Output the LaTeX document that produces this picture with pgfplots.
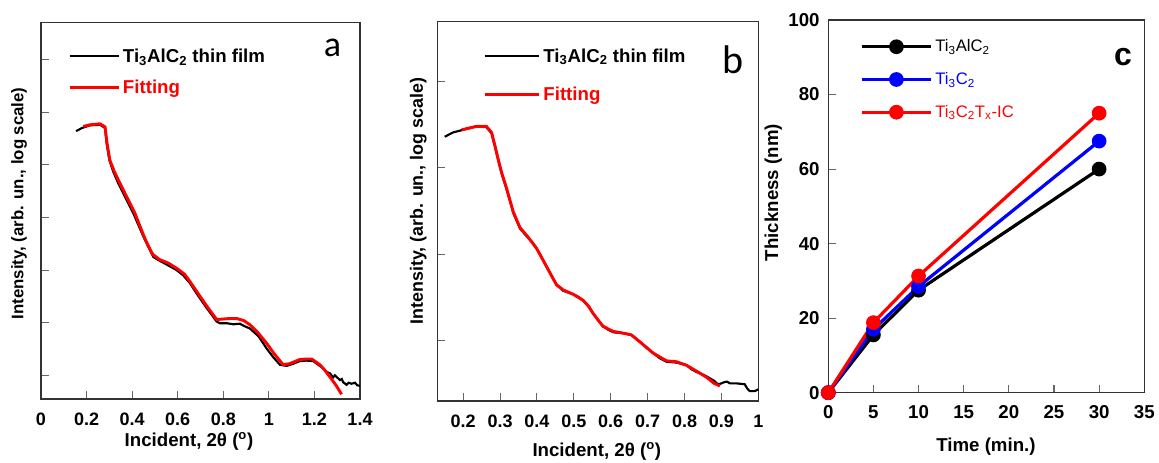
\documentclass[border=0pt]{standalone}
\usepackage{fontspec}
\setmainfont{Liberation Sans}
\newfontfamily\carlito{Carlito}
\usepackage{pgfplots}
\pgfplotsset{compat=1.18}

\pgfplotsset{
  panel/.style={
    scale only axis,
    axis line style={black!80, line width=0.8pt},
    tick style={black!60, line width=0.8pt},
    tick align=inside,
    xtick pos=bottom, ytick pos=left,
    major tick length=6pt,
    /pgf/number format/assume math mode=true,
    tick label style={font=\bfseries\fontsize{13.5}{16}\selectfont},
    label style={font=\bfseries\fontsize{14}{16}\selectfont},
    xticklabel style={yshift=-7pt},
  },
  xrr/.style={
    panel,
    yticklabels={},
    legend cell align=left,
    legend style={draw=none, fill=none, inner sep=0pt, row sep=8pt,
      font=\bfseries\fontsize{14}{16}\selectfont},
  },
}

\begin{document}
\begin{tikzpicture}
\useasboundingbox (0pt,0pt) rectangle (869.25pt,-347.25pt);

% ---- panel a ----
\begin{axis}[xrr,
  at={(30.75pt,-299.25pt)}, anchor=south west,
  width=239.25pt, height=282.2pt,
  xmin=0, xmax=1.4, ymin=0.55, ymax=7.7,
  xtick={0,0.2,0.4,0.6,0.8,1,1.2,1.4}, ytick={1,...,7},
  xticklabels={0,0.2,0.4,0.6,0.8,1,1.2,1.4},
  xlabel={Incident, 2θ (\textsuperscript{o})},
  ylabel={Intensity, (arb. un., log scale)},
  xlabel style={at={(axis description cs:0.464,-0.113)}, anchor=center},
  ylabel style={at={(axis description cs:-0.069,0.52)}, anchor=center,
    font=\bfseries\fontsize{12.6}{14}\selectfont},
  legend style={at={(axis description cs:0.084,0.939)}, anchor=north west},
  legend image code/.code={\draw[#1] (0pt,0pt) -- (37pt,0pt);},
]
\addplot[black, line width=1.6pt] coordinates {
(0.154,5.64) (0.180,5.70) (0.215,5.75) (0.259,5.76) (0.281,5.70) (0.288,5.41)
(0.300,5.09) (0.317,4.87) (0.339,4.65) (0.361,4.46) (0.383,4.27) (0.405,4.08)
(0.427,3.86) (0.449,3.64) (0.471,3.44) (0.493,3.25) (0.515,3.19) (0.537,3.14)
(0.566,3.07) (0.595,3.00) (0.624,2.90) (0.654,2.75) (0.676,2.60) (0.698,2.46)
(0.727,2.28) (0.756,2.11) (0.771,2.02) (0.785,1.99) (0.815,1.99) (0.844,1.97)
(0.873,1.98) (0.895,1.93) (0.917,1.89) (0.932,1.83) (0.955,1.74) (0.975,1.61)
(0.990,1.51) (1.020,1.34) (1.049,1.20) (1.078,1.18) (1.107,1.22) (1.136,1.27)
(1.165,1.28) (1.195,1.27) (1.220,1.19) (1.239,1.13) (1.255,1.06) (1.268,1.04)
(1.282,0.96) (1.290,1.00) (1.297,0.97) (1.312,0.91) (1.320,0.93) (1.326,0.87)
(1.341,0.82) (1.350,0.86) (1.363,0.84) (1.378,0.86) (1.388,0.81) (1.400,0.80)
};
\addlegendentry{Ti\textsubscript{3}AlC\textsubscript{2} thin film}
\addplot[red, line width=2.2pt] coordinates {
(0.186,5.73) (0.215,5.76) (0.259,5.78) (0.281,5.72) (0.290,5.41) (0.302,5.09)
(0.322,4.87) (0.345,4.66) (0.368,4.46) (0.390,4.27) (0.412,4.08) (0.432,3.86)
(0.452,3.64) (0.471,3.46) (0.490,3.30) (0.520,3.20) (0.560,3.13) (0.600,3.02)
(0.630,2.92) (0.654,2.78) (0.676,2.64) (0.698,2.50) (0.735,2.27) (0.771,2.06)
(0.800,2.07) (0.830,2.08) (0.859,2.08) (0.890,2.04) (0.917,1.96) (0.950,1.82)
(0.990,1.61) (1.025,1.40) (1.063,1.20) (1.090,1.22) (1.136,1.30) (1.165,1.31)
(1.188,1.31) (1.224,1.20) (1.245,1.10) (1.268,0.97) (1.295,0.81) (1.319,0.64)
};
\addlegendentry{\textcolor{red}{Fitting}}
\node[font=\carlito\fontsize{27}{27}\selectfont] at (axis description cs:0.914,0.932) {a};
\end{axis}

% ---- panel b ----
\begin{axis}[xrr,
  at={(327.98pt,-300.75pt)}, anchor=south west,
  width=240.75pt, height=284.5pt,
  xmin=0.13, xmax=1.0, ymin=0.306, ymax=4.69,
  xtick={0.2,0.3,0.4,0.5,0.6,0.7,0.8,0.9,1}, ytick={1,...,4},
  xticklabels={0.2,0.3,0.4,0.5,0.6,0.7,0.8,0.9,1},
  xlabel={Incident, 2θ (\textsuperscript{o})},
  ylabel={Intensity, (arb. un., log scale)},
  xlabel style={at={(axis description cs:0.497,-0.134)}, anchor=center},
  ylabel style={at={(axis description cs:-0.059,0.527)}, anchor=center,
    font=\bfseries\fontsize{13.4}{15}\selectfont},
  legend style={at={(axis description cs:0.142,0.937)}, anchor=north west, row sep=13pt},
  legend image code/.code={\draw[#1] (0pt,0pt) -- (41pt,0pt);},
]
\addplot[black, line width=1.6pt] coordinates {
(0.150,3.36) (0.173,3.41) (0.200,3.44) (0.236,3.48) (0.263,3.47) (0.277,3.40)
(0.286,3.25) (0.295,3.09) (0.304,2.94) (0.318,2.75) (0.336,2.48) (0.354,2.30)
(0.372,2.21) (0.385,2.15) (0.399,2.07) (0.412,1.97) (0.426,1.86) (0.440,1.75)
(0.453,1.65) (0.471,1.58) (0.485,1.56) (0.498,1.54) (0.512,1.51) (0.525,1.47)
(0.540,1.40) (0.552,1.32) (0.566,1.24) (0.579,1.17) (0.593,1.13) (0.607,1.10)
(0.634,1.09) (0.656,1.07) (0.679,0.99) (0.697,0.92) (0.715,0.86) (0.733,0.80)
(0.751,0.76) (0.778,0.75) (0.805,0.72) (0.820,0.67) (0.833,0.64) (0.845,0.62)
(0.860,0.59) (0.872,0.56) (0.880,0.54) (0.887,0.51) (0.895,0.50) (0.905,0.52)
(0.915,0.53) (0.923,0.51) (0.940,0.51) (0.963,0.50) (0.970,0.45) (0.977,0.42)
(0.990,0.42) (1.000,0.44)
};
\addlegendentry{Ti\textsubscript{3}AlC\textsubscript{2} thin film}
\addplot[red, line width=2.2pt] coordinates {
(0.196,3.44) (0.236,3.48) (0.263,3.48) (0.277,3.41) (0.286,3.26) (0.295,3.10)
(0.304,2.95) (0.318,2.76) (0.336,2.49) (0.354,2.31) (0.372,2.22) (0.385,2.15)
(0.399,2.07) (0.412,1.97) (0.426,1.86) (0.440,1.75) (0.453,1.65) (0.471,1.59)
(0.498,1.54) (0.525,1.47) (0.540,1.40) (0.552,1.32) (0.566,1.24) (0.579,1.17)
(0.607,1.11) (0.634,1.09) (0.656,1.07) (0.679,0.99) (0.715,0.86) (0.751,0.77)
(0.778,0.76) (0.805,0.72) (0.833,0.65) (0.860,0.58) (0.880,0.51) (0.896,0.48)
};
\addlegendentry{\textcolor{red}{Fitting}}
\node[font=\carlito\fontsize{30}{30}\selectfont] at (axis description cs:0.922,0.899) {b};
\end{axis}

% ---- panel c ----
\begin{axis}[panel,
  at={(621.2pt,-294.5pt)}, anchor=south west,
  width=237pt, height=279.5pt,
  xmin=0, xmax=35, ymin=0, ymax=100,
  xtick={0,5,...,35}, ytick={0,20,...,100},
  tick label style={font=\bfseries\fontsize{14}{16}\selectfont},
  xticklabel style={yshift=1pt},
  yticklabel style={xshift=-3pt},
  clip=false,
  xlabel={Time (min.)},
  ylabel={Thickness (nm)},
  xlabel style={at={(axis description cs:0.499,-0.145)}, anchor=center},
  ylabel style={at={(axis description cs:-0.174,0.537)}, anchor=center},
  legend cell align=left,
  legend style={draw=none, fill=none, inner sep=0pt, row sep=10pt,
    font=\fontsize{12.5}{14}\selectfont,
    at={(axis description cs:0.10,0.955)}, anchor=north west},
  legend image code/.code={\draw[mark repeat=2,mark phase=2,#1] plot coordinates {(0pt,0pt) (26pt,0pt) (52pt,0pt)};},
]
\addplot[black, line width=2.4pt, mark=*, mark size=4.3pt] coordinates {(0,0) (5,15.5) (10,27.5) (30,60)};
\addlegendentry{Ti\textsubscript{3}AlC\textsubscript{2}}
\addplot[blue, line width=2.4pt, mark=*, mark size=4.3pt] coordinates {(0,0) (5,17) (10,28.5) (30,67.5)};
\addlegendentry{\textcolor{blue}{Ti\textsubscript{3}C\textsubscript{2}}}
\addplot[red, line width=2.4pt, mark=*, mark size=4.3pt] coordinates {(0,0) (5,18.8) (10,31.3) (30,75)};
\addlegendentry{\textcolor{red}{Ti\textsubscript{3}C\textsubscript{2}T\textsubscript{x}-IC}}
\node[font=\bfseries\fontsize{24}{24}\selectfont] at (axis description cs:0.933,0.901) {c};
\end{axis}
\end{tikzpicture}
\end{document}
